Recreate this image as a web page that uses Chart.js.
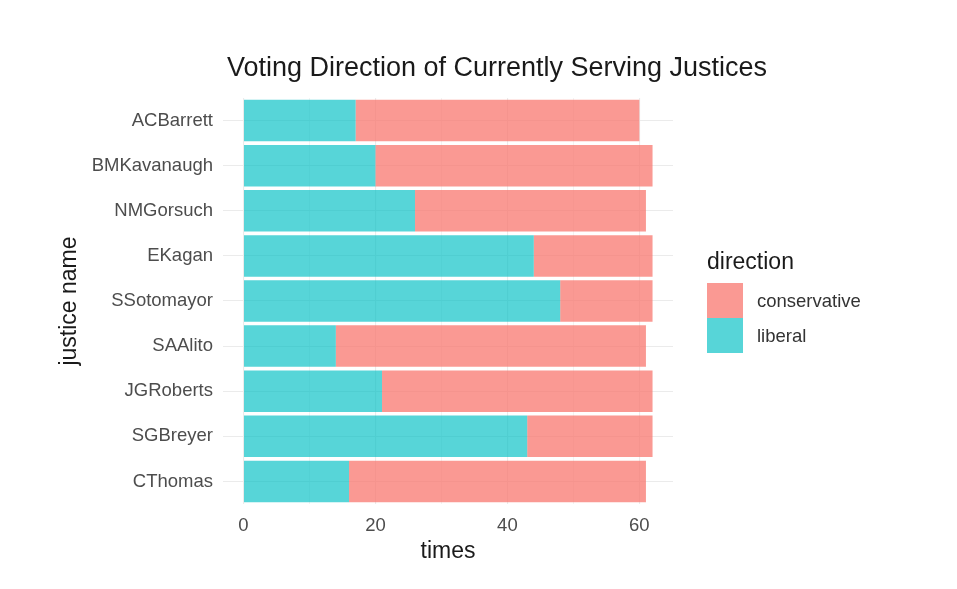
<!DOCTYPE html>
<html>
<head>
<meta charset="utf-8">
<script src="https://cdn.jsdelivr.net/npm/chart.js@4"></script>
<style>
  body { margin: 0; background: #fff; font-family: "Liberation Sans", Arial, sans-serif; }
  #wrap { position: relative; width: 957px; height: 589px; }
  #title { position: absolute; left: 0; width: 994px; top: 54px; line-height: 1; text-align: center; font-size: 27px; color: #1a1a1a; }
  #legend { position: absolute; left: 707px; top: 247px; color: #1a1a1a; }
  #legend .head { font-size: 23px; line-height: 28px; margin-bottom: 8px; }
  #legend .item { display: flex; align-items: center; height: 35px; }
  #legend .key { width: 36px; height: 35px; margin-right: 14px; }
  #legend .lab { font-size: 18.5px; color: #333; }
</style>
</head>
<body>
<div id="wrap">
  <canvas id="chart" width="957" height="589"></canvas>
  <div id="title">Voting Direction of Currently Serving Justices</div>
  <div id="legend">
    <div class="head">direction</div>
    <div class="item"><div class="key" style="background:rgba(248,118,109,0.74)"></div><span class="lab">conservative</span></div>
    <div class="item"><div class="key" style="background:rgba(0,191,196,0.66)"></div><span class="lab">liberal</span></div>
  </div>
</div>
<script>
// data
const justices = ['ACBarrett', 'BMKavanaugh', 'NMGorsuch', 'EKagan', 'SSotomayor', 'SAAlito', 'JGRoberts', 'SGBreyer', 'CThomas'];
const liberal = [17, 20, 26, 44, 48, 14, 21, 43, 16];
const conservative = [43, 42, 35, 18, 14, 47, 41, 19, 45];
const xTicks = [0, 10, 20, 30, 40, 50, 60];

const ctx = document.getElementById('chart').getContext('2d');
new Chart(ctx, {
  type: 'bar',
  data: {
    labels: justices,
    datasets: [
      { label: 'liberal', data: liberal, backgroundColor: 'rgba(0,191,196,0.66)', borderWidth: 0 },
      { label: 'conservative', data: conservative, backgroundColor: 'rgba(248,118,109,0.74)', borderWidth: 0 }
    ]
  },
  options: {
    indexAxis: 'y',
    responsive: false,
    animation: false,
    layout: { padding: { top: 98, right: 284, bottom: 0, left: 0 } },
    datasets: { bar: { barPercentage: 0.92, categoryPercentage: 1 } },
    plugins: { legend: { display: false }, tooltip: { enabled: false } },
    scales: {
      x: {
        stacked: true,
        min: -3.1,
        max: 65.1,
        afterBuildTicks: (s) => { s.ticks = xTicks.map(v => ({ value: v })); },
        afterFit: (s) => { s.height = 85; },
        border: { display: false },
        grid: {
          drawTicks: false,
          color: '#ebebeb',
          lineWidth: (c) => (c.tick && c.tick.value % 20 === 0 ? 1.1 : 0.6)
        },
        ticks: {
          padding: 11,
          color: '#4d4d4d',
          font: { family: 'Liberation Sans', size: 18.5 },
          callback: (v) => (v % 20 === 0 ? String(v) : '')
        },
        title: {
          display: true,
          text: 'times',
          color: '#1a1a1a',
          font: { family: 'Liberation Sans', size: 23 },
          padding: { top: 0, bottom: 24 }
        }
      },
      y: {
        stacked: true,
        afterFit: (s) => { s.width = 223; },
        border: { display: false },
        grid: { offset: false, drawTicks: false, color: '#ebebeb', lineWidth: 1.1 },
        ticks: {
          padding: 10,
          color: '#4d4d4d',
          font: { family: 'Liberation Sans', size: 18.5 }
        },
        title: {
          display: true,
          text: 'justice name',
          color: '#1a1a1a',
          font: { family: 'Liberation Sans', size: 23 },
          padding: { top: 56, bottom: 0 }
        }
      }
    }
  }
});
</script>
</body>
</html>
